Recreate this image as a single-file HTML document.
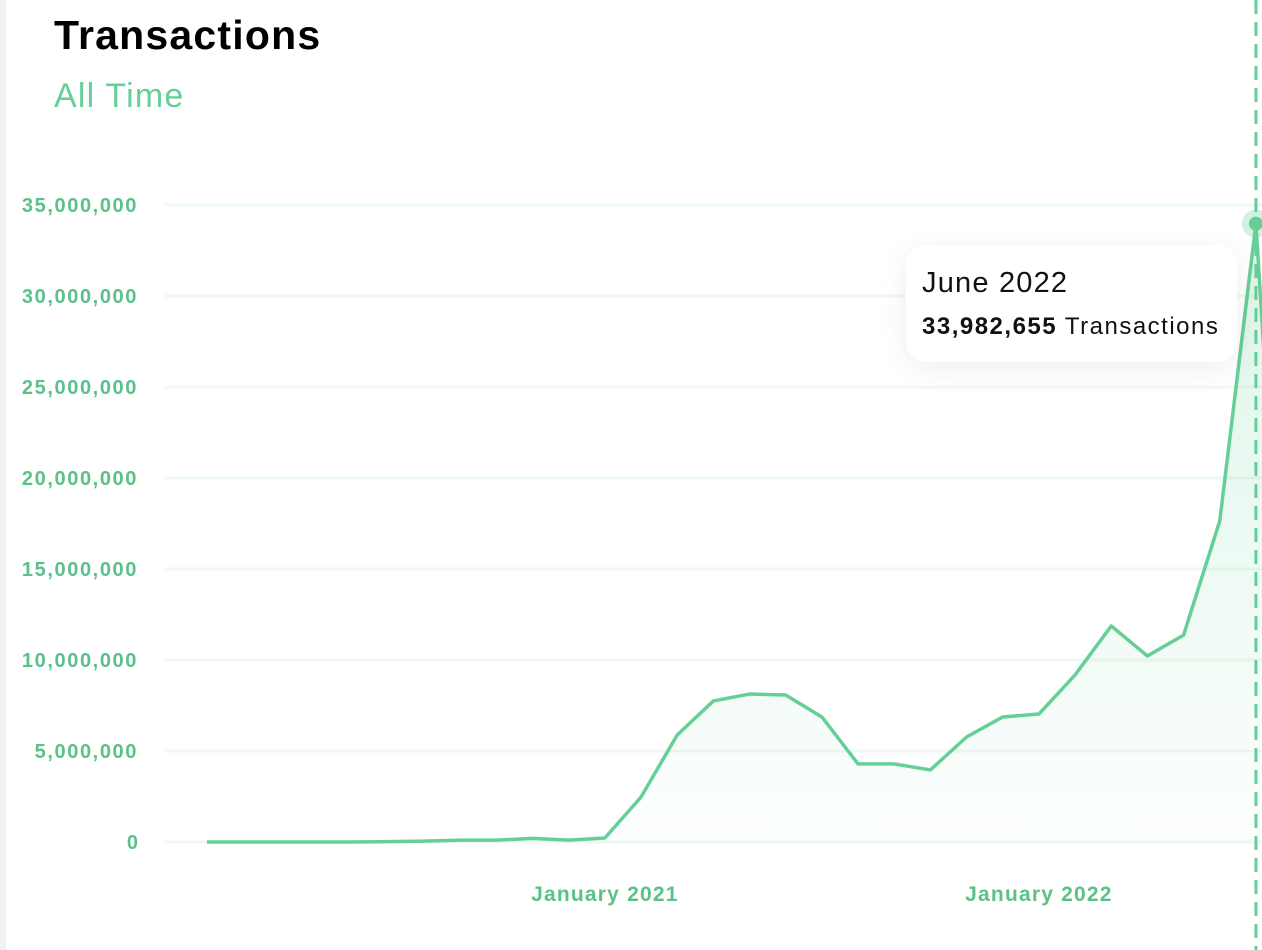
<!DOCTYPE html>
<html><head><meta charset="utf-8"><style>
body{margin:0;width:1262px;height:950px;overflow:hidden;background:#fff;font-family:"Liberation Sans",sans-serif;position:relative}
#border{position:absolute;left:0;top:0;width:6px;height:950px;background:#eff3f3}
#title{position:absolute;left:54px;top:12px;font-size:41px;font-weight:bold;color:#000;letter-spacing:1.2px}
#sub{position:absolute;left:54px;top:77px;font-size:34px;color:#66cf98;letter-spacing:1.2px}
#tip{position:absolute;left:906px;top:245px;width:331px;height:117px;background:#fff;border-radius:20px;box-shadow:0 6px 30px rgba(0,0,0,0.07)}
#tip .m{position:absolute;left:16px;top:22px;font-size:29px;color:#111;letter-spacing:1.2px}
#tip .v{position:absolute;left:16px;top:68px;font-size:24px;color:#111;letter-spacing:1.5px;white-space:nowrap}
</style></head><body>
<div id="border"></div>
<div id="title">Transactions</div>
<div id="sub">All Time</div>
<svg id="chart" width="1262" height="950" style="position:absolute;left:0;top:0">
<defs><linearGradient id="g" x1="0" y1="0" x2="0" y2="1"><stop offset="0" stop-color="#66cf98" stop-opacity="0.22"/><stop offset="1" stop-color="#66cf98" stop-opacity="0.02"/></linearGradient></defs>
</svg>
<div id="tip">
<div class="m">June 2022</div>
<div class="v"><b>33,982,655</b> Transactions</div>
</div>
<script>
const values=[0,0,0,0,0,0.02,0.05,0.1,0.1,0.2,0.1,0.22,2.47,5.88,7.75,8.13,8.08,6.87,4.29,4.29,3.96,5.77,6.87,7.03,9.18,11.87,10.22,11.37,17.64,33.98,2.0];
const yTicks=[0,5,10,15,20,25,30,35];
const yTickLabels=["0","5,000,000","10,000,000","15,000,000","20,000,000","25,000,000","30,000,000","35,000,000"];
const xLabels=[{i:11,t:"January 2021"},{i:23,t:"January 2022"}];
const hoverIndex=29;
const svg=document.getElementById('chart');const NS="http://www.w3.org/2000/svg";
const x=i=>207+i*36.17;
const y=v=>842-v*(637/35);
function mk(t,a,p){const e=document.createElementNS(NS,t);for(const k in a)e.setAttribute(k,a[k]);(p||svg).appendChild(e);return e;}
yTicks.forEach((v,k)=>{
const l=mk('line',{x1:165,x2:1262,y1:y(v),y2:y(v),stroke:'#eef9f3','stroke-width':3});


const s=yTickLabels[k];
const t=mk('text',{x:138,y:y(v)+7,'text-anchor':'end','font-size':20,'font-weight':'bold',fill:'#5cc08a','letter-spacing':s.length>1?'1.6px':'0'});
t.textContent=s;


});
xLabels.forEach(o=>{
const t=mk('text',{x:x(o.i),y:901,'text-anchor':'middle','font-size':21,'font-weight':'bold',fill:'#5cc08a','letter-spacing':'1.2px'});
t.textContent=o.t;


});
const pts=values.map((v,i)=>x(i)+','+y(v));
const area=mk('polygon',{points:x(0)+','+y(0)+' '+pts.join(' ')+' '+x(values.length-1)+','+y(0),fill:'url(#g)'});


const line=mk('polyline',{points:pts.join(' '),fill:'none',stroke:'#66cf98','stroke-width':3.5,'stroke-linejoin':'round'});


const vl=mk('line',{x1:x(hoverIndex),x2:x(hoverIndex),y1:0,y2:950,stroke:'#66cf98','stroke-width':3,'stroke-dasharray':'14,8'});


const halo=mk('circle',{cx:x(hoverIndex),cy:y(values[hoverIndex]),r:14,fill:'#66cf98','fill-opacity':0.3});


const dot=mk('circle',{cx:x(hoverIndex),cy:y(values[hoverIndex]),r:7,fill:'#66cf98'});


</script>
</body></html>
